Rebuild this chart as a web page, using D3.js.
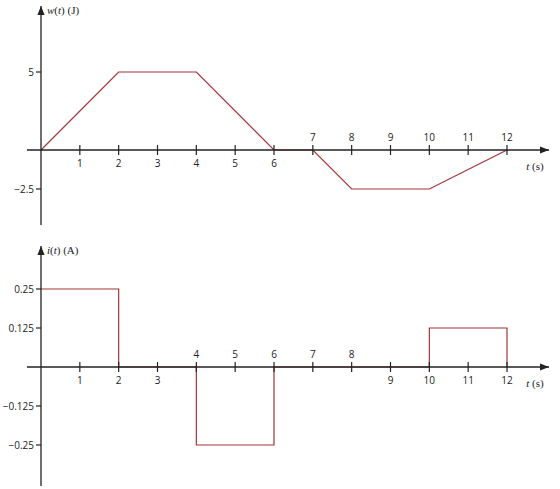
<!DOCTYPE html>
<html>
<head>
<meta charset="UTF-8">
<script src="https://cdn.jsdelivr.net/npm/d3@7"></script>
<style>body{margin:0;background:#fff}text{font-family:"Open Sans",sans-serif;font-size:10px;fill:#222}.it{font-family:"Liberation Serif",serif;font-size:11px}</style>
</head>
<body>
<svg id="c" width="560" height="489"></svg>
<script>
// energy w(t) in J
var wT = [0, 2, 4, 6, 7, 8, 10, 12];
var wV = [0, 5, 5, 0, 0, -2.5, -2.5, 0];
// current i(t) in A
var iT = [0, 2, 2, 4, 4, 6, 6, 10, 10, 12, 12];
var iV = [0.25, 0.25, 0, 0, -0.25, -0.25, 0, 0, 0.125, 0.125, 0];
var xTicks = [1,2,3,4,5,6,7,8,9,10,11,12];
var wTicks = [5, -2.5], wTickLabels = ["5", "\u22122.5"];
var iTicks = [0.25, 0.125, -0.125, -0.25], iTickLabels = ["0.25", "0.125", "\u22120.125", "\u22120.25"];
var wAbove = [7,8,9,10,11,12], iAbove = [4,5,6,7,8];

var svg = d3.select("#c");
svg.append("defs").append("marker").attr("id","ar").attr("viewBox","0 0 10 10")
  .attr("refX",10).attr("refY",5).attr("markerWidth",7).attr("markerHeight",7).attr("orient","auto")
  .append("path").attr("d","M0,1L10,5L0,9Z").attr("fill","#222");
var x = d3.scaleLinear().domain([0,12]).range([41,507]);

function panel(y, yTop, yBot, ticks, labels, above, ts, vs, ylab) {
  // curve first so the axis stays black on top of it
  svg.append("path").datum(ts.map(function(t,k){return [t,vs[k]];}))
    .attr("d", d3.line().x(function(d){return x(d[0]);}).y(function(d){return y(d[1]);}))
    .attr("fill","none").attr("stroke","#a3343a").attr("stroke-width",1.2);
  svg.append("line").attr("x1",27).attr("x2",549).attr("y1",y(0)).attr("y2",y(0))
    .attr("stroke","#222").attr("stroke-width",1.3).attr("marker-end","url(#ar)");
  svg.append("line").attr("x1",41).attr("x2",41).attr("y1",yBot).attr("y2",yTop)
    .attr("stroke","#222").attr("stroke-width",1.3).attr("marker-end","url(#ar)");
  xTicks.forEach(function(t){
    svg.append("line").attr("x1",x(t)).attr("x2",x(t)).attr("y1",y(0)-5).attr("y2",y(0)+5).attr("stroke","#222").attr("stroke-width",1.2);
    var up = above.indexOf(t) >= 0;
    svg.append("text").attr("x",x(t)).attr("y",up ? y(0)-9 : y(0)+17).attr("text-anchor","middle").text(t);
  });
  ticks.forEach(function(v,k){
    svg.append("line").attr("x1",36).attr("x2",41).attr("y1",y(v)).attr("y2",y(v)).attr("stroke","#222").attr("stroke-width",1.2);
    svg.append("text").attr("x",34).attr("y",y(v)+4).attr("text-anchor","end").text(labels[k]);
  });
  svg.append("text").attr("class","it").attr("x",47).attr("y",yTop+8).html(ylab);
  svg.append("text").attr("class","it").attr("x",535).attr("y",y(0)+20).attr("text-anchor","middle").html("<tspan font-style='italic'>t</tspan> (s)");
}
panel(d3.scaleLinear().domain([0,5]).range([150,72]), 6, 225, wTicks, wTickLabels, wAbove, wT, wV,
  "<tspan font-style='italic'>w</tspan>(<tspan font-style='italic'>t</tspan>) (J)");
panel(d3.scaleLinear().domain([0,0.25]).range([367,289]), 246, 486, iTicks, iTickLabels, iAbove, iT, iV,
  "<tspan font-style='italic'>i</tspan>(<tspan font-style='italic'>t</tspan>) (A)");
</script>
</body>
</html>
